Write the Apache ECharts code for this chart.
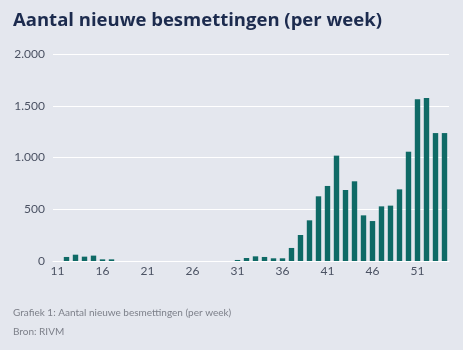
<!DOCTYPE html>
<html>
<head>
<meta charset="utf-8">
<script src="https://cdn.jsdelivr.net/npm/echarts@6/dist/echarts.min.js"></script>
<style>
    html, body { margin: 0; padding: 0; background: #e4e7ee; }
    #chart { width: 463px; height: 350px; }
</style>
</head>
<body>
<div id="chart"></div>
<script>
    // weeknummers (week 11 t/m 53, daarna week 1)
    const weeks = ['11','12','13','14','15','16','17','18','19','20','21','22','23','24','25','26','27','28','29','30',
        '31','32','33','34','35','36','37','38','39','40','41','42','43','44','45','46','47','48','49','50','51','52','53','1'];
    // nieuwe besmettingen per week
    const cases = [0, 39, 61, 42, 52, 16, 16, 0, 0, 0, 0, 0, 0, 0, 0, 0, 0, 0, 0, 0,
        10, 29, 45, 39, 26, 26, 126, 251, 393, 625, 725, 1018, 686, 770, 441, 386, 528, 535, 692, 1056, 1562, 1575, 1236, 1236];
    const yTicks = [0, 500, 1000, 1500, 2000];

    const labelColor = '#4b5263';
    const barColor = '#0f6a66';

    let myChart = echarts.init(document.getElementById('chart'));
    myChart.setOption({
        backgroundColor: '#e4e7ee',
        textStyle: { fontFamily: 'Lato, "Open Sans", sans-serif' },
        title: [{
            text: 'Aantal nieuwe besmettingen (per week)',
            left: 8,
            top: 6,
            textStyle: {
                color: '#1c2b4e',
                fontSize: 18.5,
                fontWeight: 'bold',
                fontFamily: '"Open Sans", sans-serif'
            }
        }, {
            text: 'Grafiek 1: Aantal nieuwe besmettingen (per week)',
            left: 8,
            top: 303,
            textStyle: { color: '#7d808a', fontSize: 10, fontWeight: 'normal' }
        }, {
            text: 'Bron: RIVM',
            left: 8,
            top: 322,
            textStyle: { color: '#7d808a', fontSize: 10, fontWeight: 'normal' }
        }],
        grid: {
            left: 53,
            right: 14,
            top: 54,
            bottom: 89,
            containLabel: false
        },
        xAxis: {
            type: 'category',
            data: weeks,
            axisTick: { show: false },
            axisLine: { lineStyle: { color: '#ffffff', width: 1 } },
            axisLabel: {
                interval: 4,
                color: labelColor,
                fontSize: 12,
                margin: 4
            }
        },
        yAxis: {
            type: 'value',
            min: yTicks[0],
            max: yTicks[yTicks.length - 1],
            interval: 500,
            axisLine: { show: false },
            axisTick: { show: false },
            splitLine: { lineStyle: { color: '#ffffff', width: 1 } },
            axisLabel: {
                color: labelColor,
                fontSize: 12,
                margin: 8,
                formatter: v => v.toLocaleString('nl-NL').replace(/,/g, '.')
            }
        },
        series: [{
            type: 'bar',
            data: cases,
            barWidth: '60%',
            itemStyle: { color: barColor }
        }]
    });
</script>
</body>
</html>
